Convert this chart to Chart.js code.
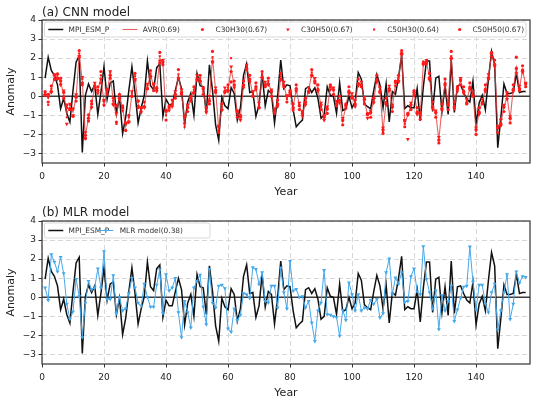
<!DOCTYPE html>
<html>
<head>
<meta charset="utf-8">
<script src="https://cdn.jsdelivr.net/npm/chart.js"></script>
<style>
  html, body { margin: 0; padding: 0; background: #fff; }
  canvas { display: block; }
</style>
</head>
<body>
<canvas id="cnn" width="541" height="200"></canvas>
<canvas id="mlr" width="541" height="201"></canvas>
<script>
// ---- data ----
const years = Array.from({ length: 156 }, (_, i) => i + 1);
const xTicks = [0, 20, 40, 60, 80, 100, 120, 140];
const yTicks = [-3, -2, -1, 0, 1, 2, 3, 4];

const mpi = [0.95, 2.05, 1.35, 1.1, 0.6, -0.65, -0.1, -0.9, -1.35, 0.3,
  1.8, 2.1, -2.95, 0.05, 0.65, 0.25, 0.6, -0.95, 0.2, 1.55,
  -0.15, 0.7, 0.8, -0.9, -0.05, -1.95, -1.1, 0.3, 1.55, 0.2,
  -1.4, -0.6, 0.05, 1.85, 0.55, 0.35, 1.5, 1.7, -1.05, -0.15,
  -0.45, -0.45, 0.3, 1.0, 0.4, -1.45, -0.3, 0.15, -1.0, 1.2,
  0.55, 0.5, -0.9, 1.65, 0.3, -1.5, -2.3, -0.05, -0.5, -0.65,
  0.45, 0.15, -1.25, -0.6, 1.1, 1.7, 0.2, 0.25, -1.05, -0.45,
  1.2, -0.5, 0.3, 0.15, -1.4, 0.0, 1.9, 0.4, 0.6, 0.55,
  -0.7, -1.6, -1.4, -1.25, 0.4, 0.5, 0.2, 0.45, -0.1, -1.15,
  -1.0, 0.5, 0.05, 0.0, -0.9, 0.7, -0.75, -0.65, 0.0, -0.6,
  -0.3, 1.25, 0.9, -0.4, -0.55, -0.65, 0.3, 1.15, 0.6, -0.6,
  0.65, -1.35, 0.25, 0.1, 1.0, 2.15, -0.65, -0.5, -0.6, -0.6,
  0.4, -1.3, 0.5, 1.85, 1.85, -0.8, 0.95, 1.05, -0.8, 0.55,
  -0.95, 1.9, -0.85, 0.55, 0.6, 0.2, -0.15, -0.3, 0.8, -1.45,
  -0.35, 0.05, -0.7, 0.9, 2.35, 1.65, -2.7, -1.1, 0.65, 0.15,
  0.15, 0.2, 1.2, 0.2, 0.25, 0.25];

const avr = [0.15, -0.1, 0.35, 1.0, 1.05, 0.75, 0.1, -0.9, -0.55, -0.85,
  -0.05, 2.2, 0.8, -2.1, -1.1, -0.45, 0.55, 0.3, 1.0, -0.35,
  0.25, 1.15, -0.3, -1.05, 0.0, -0.6, -1.6, -1.2, 0.1, 1.0,
  -0.4, -0.7, -0.5, 0.5, 1.15, 0.5, 0.35, 2.0, 1.75, -0.95,
  -0.6, -0.4, 0.1, 1.1, 0.2, -1.3, -0.6, -0.1, 0.3, 0.95,
  0.9, 0.3, -0.7, -0.2, 2.0, 0.3, -1.7, -0.6, 0.3, 0.4,
  1.4, 0.6, -0.9, -1.1, 0.6, 1.5, 0.9, 0.1, 0.5, -0.5,
  1.1, 0.6, 0.75, 0.2, -0.8, -0.4, 1.0, 0.6, -0.1, 0.2,
  -0.6, 0.4, -0.5, -0.9, -0.3, 0.3, 1.2, 0.8, 0.4, -0.5,
  -1.1, -0.7, 0.5, 0.3, -0.4, -0.2, -1.3, -0.5, 0.3, 0.0,
  -0.4, 0.7, 0.6, -0.2, -1.0, -0.9, -0.2, 0.9, 0.3, -1.8,
  -0.3, 0.4, -0.6, 0.7, 0.9, 2.3, -1.4, -1.0, -0.5, 0.2,
  -0.8, -1.0, 1.75, 1.8, 1.0, -0.5, -0.9, -2.3, -0.6, 0.7,
  -0.5, 2.1, -0.5, 0.4, 0.8, 0.3, -0.3, 0.5, 0.1, -1.8,
  -0.8, -0.3, 0.4, 1.0, 2.2, 1.7, -1.7, -1.4, -0.6, 0.0,
  -1.2, 0.4, 1.5, 0.4, 1.4, 0.6];

const c30h30 = [0.25, -0.3, 0.55, 0.9, 1.15, 0.95, -0.1, -0.6, -0.65, -0.65,
  -0.25, 2.4, 0.6, -2.2, -1.3, -0.25, 0.45, 0.5, 1.3, -0.45,
  0.35, 0.95, -0.1, -1.35, 0.1, -0.5, -1.8, -1.0, 0.0, 1.2,
  -0.6, -0.6, -0.3, 0.4, 1.35, 0.3, 0.45, 2.3, 1.65, -1.25,
  -0.5, -0.2, -0.1, 1.4, 0.1, -1.1, -0.8, 0.0, 0.5, 0.85,
  1.1, 0.1, -0.6, -0.4, 2.35, 0.2, -1.9, -0.4, 0.2, 0.6,
  1.3, 0.8, -1.1, -1.0, 0.8, 1.4, 1.1, 0.0, 0.7, -0.6,
  1.3, 0.5, 0.95, 0.0, -0.9, -0.2, 1.2, 0.5, -0.3, 0.3,
  -0.4, 0.6, -0.7, -0.8, -0.1, 0.2, 1.4, 0.7, 0.6, -0.7,
  -1.0, -0.9, 0.6, 0.1, -0.5, 0.0, -1.5, -0.4, 0.5, -0.1,
  -0.2, 0.9, 0.5, -0.4, -0.9, -1.1, -0.1, 1.1, 0.2, -1.95,
  -0.1, 0.3, -0.8, 0.8, 1.1, 2.4, -1.6, -0.9, -0.7, 0.3,
  -0.6, -1.2, 1.8, 1.7, 1.2, -0.3, -1.1, -2.45, -0.4, 0.9,
  -0.7, 2.35, -0.3, 0.5, 0.6, 0.5, -0.4, 0.7, 0.0, -2.0,
  -0.6, -0.4, 0.6, 0.9, 2.3, 1.9, -1.9, -1.2, -0.8, 0.2,
  -1.4, 0.6, 2.05, 0.3, 1.6, 0.5];

const c30h50 = [0.05, -0.05, 0.2, 1.15, 0.9, 0.6, 0.3, -1.45, -0.4, -1.0,
  0.1, 2.1, 1.0, -1.9, -1.0, -0.6, 0.7, 0.15, 0.9, -0.2,
  0.1, 1.3, -0.45, -0.9, -0.15, -0.75, -1.45, -1.35, 0.25, 0.9,
  -0.25, -0.85, -0.6, 0.65, 1.0, 0.6, 0.25, 1.85, 1.9, -0.8,
  -0.75, -0.55, 0.25, 0.95, 0.35, -1.45, -0.45, -0.25, 0.15, 1.1,
  0.75, 0.45, -0.85, 0.0, 1.8, 0.45, -1.55, -0.75, 0.45, 0.25,
  1.55, 0.45, -0.75, -1.25, 0.45, 1.65, 0.75, 0.25, 0.35, -0.35,
  0.95, 0.75, 0.6, 0.35, -0.65, -0.55, 0.85, 0.75, 0.05, 0.05,
  -0.75, 0.25, -0.35, -1.05, -0.45, 0.45, 1.05, 0.95, 0.25, -0.35,
  -1.25, -0.55, 0.35, 0.45, -0.25, -0.35, -1.15, -0.65, 0.15, 0.15,
  -0.55, 0.55, 0.75, -0.05, -1.15, -0.75, -0.35, 0.75, 0.45, -1.65,
  -0.45, 0.55, -0.45, 0.55, 0.75, 2.15, -1.25, -2.25, -0.35, 0.05,
  -0.95, -0.85, 1.65, 1.9, 0.85, -0.65, -0.75, -2.15, -0.75, 0.55,
  -0.35, 1.95, -0.65, 0.25, 0.95, 0.15, -0.15, 0.35, 0.25, -1.65,
  -0.95, -0.15, 0.25, 1.15, 2.05, 1.55, -1.55, -1.55, -0.45, -0.15,
  -1.05, 0.25, 1.2, 0.55, 1.25, 0.7];

const c50h30 = [0.2, -0.45, 0.4, 0.85, 1.2, 0.65, 0.0, -1.1, -0.45, -0.7,
  0.0, 2.25, 0.9, -2.25, -0.95, -0.55, 0.5, 0.25, 1.1, -0.5,
  0.2, 1.25, -0.25, -1.45, 0.05, -0.55, -1.75, -1.1, 0.15, 1.05,
  -0.5, -0.75, -0.55, 0.55, 1.2, 0.45, 0.3, 2.1, 1.7, -1.0,
  -0.55, -0.45, 0.05, 1.15, 0.15, -1.6, -0.55, -0.05, 0.35, 0.95,
  0.95, 0.25, -0.75, -0.15, 2.05, 0.25, -1.75, -0.55, 0.3, 0.45,
  2.0, 0.55, -0.95, -1.05, 0.55, 1.5, 0.85, 0.15, 0.45, -0.45,
  1.15, 0.55, 0.8, 0.2, -0.85, -0.45, 1.05, 0.55, -0.15, 0.25,
  -0.65, 0.35, -0.45, -0.85, -0.35, 0.3, 1.25, 0.75, 0.4, -0.55,
  -1.05, -0.7, 0.55, 0.3, -0.45, -0.25, -1.3, -0.45, 0.3, 0.0,
  -0.45, 0.7, 0.55, -0.2, -1.0, -0.9, -0.25, 0.9, 0.3, -1.85,
  -0.3, 0.35, -0.6, 0.7, 0.95, 2.3, -1.45, -1.0, -0.5, 0.25,
  -0.8, -1.05, 1.75, 1.8, 1.0, -0.5, -0.9, -2.3, -0.6, 0.7,
  -0.5, 2.1, -0.5, 0.45, 0.8, 0.3, -0.3, 0.5, 0.1, -1.8,
  -0.8, -0.3, 0.4, 1.0, 2.2, 1.7, -1.7, -1.4, -0.6, 0.0,
  -1.2, 0.4, 1.5, 0.4, 1.4, 0.6];

const c50h50 = [0.1, 0.1, 0.25, 1.1, 0.95, 0.8, 0.2, -0.45, -0.7, -1.05,
  -0.05, 2.05, 0.7, -2.05, -1.15, -0.4, 0.55, 0.3, 0.7, -0.25,
  0.35, 1.1, -0.4, -0.5, -0.1, -0.6, -1.4, -1.35, 0.0, 0.85,
  -0.25, -0.6, -0.55, 0.4, 1.05, 0.65, 0.4, 1.75, 1.8, -0.75,
  -0.6, -0.4, 0.1, 0.9, 0.2, -1.05, -0.6, -0.1, 0.2, 0.9,
  0.8, 0.4, -0.6, -0.25, 1.8, 0.3, -1.6, -0.7, 0.25, 0.3,
  0.75, 0.6, -0.8, -1.1, 0.6, 1.45, 0.9, 0.0, 0.5, -0.6,
  1.0, 0.6, 0.65, 0.25, -0.8, -0.4, 0.9, 0.6, 0.0, 0.2,
  -0.6, 0.4, -0.5, -0.9, -0.3, 0.25, 1.1, 0.8, 0.35, -0.45,
  -1.1, -0.65, 0.5, 0.35, -0.4, -0.2, -1.25, -0.5, 0.25, -0.05,
  -0.4, 0.65, 0.6, -0.15, -0.95, -0.85, -0.1, 0.85, 0.25, -1.75,
  -0.35, 0.4, -0.55, 0.75, 0.8, 2.25, -1.3, -0.95, -0.45, 0.2,
  -0.85, -0.9, 1.7, 1.8, 0.95, -0.55, -0.85, -2.3, -0.65, 0.65,
  -0.45, 2.0, -0.55, 0.4, 0.85, 0.25, -0.35, 0.45, 0.05, -1.75,
  -0.85, -0.35, 0.35, 0.95, 2.25, 1.65, -1.65, -1.45, -0.55, 0.05,
  -1.15, 0.35, 1.45, 0.4, 1.35, 0.65];

const mlr = [0.5, -0.15, 2.25, 1.85, 1.35, 2.1, 1.25, -0.35, -1.15, -0.75,
  0.95, 0.05, -2.1, -0.3, 0.85, 0.4, 0.5, 1.5, 0.5, 2.4,
  -0.1, -0.1, 1.15, -0.85, 0.0, -0.7, -0.6, 0.2, 1.0, 0.5,
  -0.3, -0.45, 0.7, 0.0, -0.5, -0.5, 0.65, 1.45, -0.85, 1.2,
  0.35, 0.5, 1.0, -0.8, -2.1, -0.2, -0.8, -1.6, 0.5, 0.85,
  1.17, -0.5, -1.42, 1.47, -0.3, -0.55, 0.6, 0.65, 0.47, -1.65,
  -1.82, -0.6, -1.2, -0.93, 0.2, 0.15, -0.05, 1.56, 1.47, 0.68,
  1.3, -0.2, -0.28, 0.6, 0.6, -0.55, 1.55, 0.25, -0.6, 1.9,
  0.33, 0.42, 0.0, 0.05, -0.55, -0.2, -1.33, -2.3, -0.7, -0.28,
  1.42, -0.9, -0.92, -1.0, -1.05, -2.03, -0.67, -1.2, 0.77, 0.15,
  -0.7, 0.15, -0.7, -0.55, -0.6, -0.15, -0.35, -0.1, -1.07, -0.85,
  1.3, 2.03, 0.15, 1.03, 0.7, 1.3, -0.25, -0.2, 1.1, 1.5,
  0.3, 0.15, 2.67, 0.95, 0.25, -0.6, 0.35, -1.68, 0.1, -0.7,
  -0.2, 0.6, -1.25, -0.65, -0.05, 0.55, 0.6, 2.65, 0.8, -0.65,
  0.65, 0.65, -0.35, -0.8, 0.25, 0.7, -1.7, -0.7, 0.25, 1.2,
  -1.15, -0.35, 1.35, 0.75, 1.1, 1.05];

// ---- styling ----
const FONT = 'DejaVu Sans';
const RED = '#ff1a1a';
const AVR_RED = 'rgba(226,60,60,0.8)';
const BLUE = '#45a8ea';
const toXY = arr => arr.map((v, i) => ({ x: years[i], y: v }));

function lineSet(label, arr, color, width, order) {
  return { label, data: toXY(arr), borderColor: color, borderWidth: width,
    pointRadius: 0, tension: 0, fill: false, order };
}
function dotSet(label, arr, style, radius, rotation, order) {
  return { label, data: toXY(arr), showLine: false, pointStyle: style,
    pointRadius: radius, pointRotation: rotation, pointBackgroundColor: RED,
    pointBorderWidth: 0, borderColor: RED, order };
}

// frame, zero line, tick marks, panel title and inside legend
const framePlugin = {
  id: 'frame',
  beforeDatasetsDraw(chart) {
    const { ctx, chartArea: a, scales: { y } } = chart;
    const y0 = y.getPixelForValue(0);
    ctx.save();
    ctx.strokeStyle = '#3c3c3c';
    ctx.lineWidth = 1.3;
    ctx.beginPath();
    ctx.moveTo(a.left, y0);
    ctx.lineTo(a.right, y0);
    ctx.stroke();
    ctx.restore();
  },
  afterDraw(chart, args, opts) {
    const { ctx, chartArea: a, scales: { x, y } } = chart;
    ctx.save();
    ctx.strokeStyle = '#333';
    ctx.lineWidth = 1.2;
    ctx.strokeRect(a.left, a.top, a.right - a.left, a.bottom - a.top);
    ctx.lineWidth = 1;
    ctx.beginPath();
    xTicks.forEach(v => {
      const px = Math.round(x.getPixelForValue(v)) + 0.5;
      ctx.moveTo(px, a.bottom);
      ctx.lineTo(px, a.bottom + 3.5);
    });
    yTicks.forEach(v => {
      const py = Math.round(y.getPixelForValue(v)) + 0.5;
      ctx.moveTo(a.left, py);
      ctx.lineTo(a.left - 3.5, py);
    });
    ctx.stroke();

    // panel title
    ctx.fillStyle = '#222';
    ctx.font = '12px "' + FONT + '"';
    ctx.textBaseline = 'alphabetic';
    ctx.fillText(opts.title, a.left, 15.5);

    // legend box
    const lg = opts.legend;
    const top = a.top + 2, h = 15, yc = top + h / 2;
    ctx.beginPath();
    ctx.roundRect(a.left + 2.5, top, lg.width, h, 2);
    ctx.fillStyle = 'rgba(255,255,255,0.85)';
    ctx.fill();
    ctx.strokeStyle = '#cfcfcf';
    ctx.lineWidth = 0.8;
    ctx.stroke();

    ctx.font = '7.4px "' + FONT + '"';
    ctx.textBaseline = 'middle';
    lg.items.forEach(it => {
      if (it.line) {
        ctx.strokeStyle = it.color;
        ctx.lineWidth = it.line;
        ctx.beginPath();
        ctx.moveTo(it.x, yc);
        ctx.lineTo(it.x + 15, yc);
        ctx.stroke();
      }
      if (it.style) {
        ctx.fillStyle = it.color;
        ctx.strokeStyle = it.color;
        Chart.helpers.drawPoint(ctx, { pointStyle: it.style, radius: it.r,
          rotation: it.rot || 0, borderWidth: 0 }, it.x + (it.line ? 7.5 : 0), yc);
      }
      ctx.fillStyle = '#333';
      ctx.fillText(it.text, it.tx, yc + 0.5);
    });
    ctx.restore();
  }
};

function makeChart(id, datasets, title, legend, padTop) {
  const gridOpts = { color: '#d8d8d8', lineWidth: 1, drawTicks: false };
  const borderOpts = { display: false, dash: [5, 3] };
  return new Chart(document.getElementById(id), {
    type: 'line',
    data: { datasets },
    plugins: [framePlugin],
    options: {
      responsive: false,
      animation: false,
      devicePixelRatio: 1,
      layout: { padding: { top: padTop, right: 11, left: 0, bottom: 0 } },
      plugins: {
        legend: { display: false },
        tooltip: { enabled: false },
        frame: { title, legend }
      },
      scales: {
        x: {
          type: 'linear', min: 0, max: 157.4,
          afterBuildTicks: s => { s.ticks = xTicks.map(v => ({ value: v })); },
          afterFit: s => { s.height = 37; },
          grid: gridOpts,
          border: borderOpts,
          ticks: { font: { family: FONT, size: 9 }, color: '#222', padding: 8, maxRotation: 0 },
          title: { display: true, text: 'Year', color: '#222',
            font: { family: FONT, size: 11, lineHeight: 1 }, padding: { top: 0, bottom: 2 } }
        },
        y: {
          type: 'linear', min: -3.5, max: 4,
          afterBuildTicks: s => { s.ticks = yTicks.map(v => ({ value: v })); },
          afterFit: s => { s.width = 42; },
          grid: gridOpts,
          border: borderOpts,
          ticks: { font: { family: FONT, size: 9 }, color: '#222', padding: 6,
            callback: v => v < 0 ? '\u2212' + Math.abs(v) : String(v) },
          title: { display: true, text: 'Anomaly', color: '#222',
            font: { family: FONT, size: 11, lineHeight: 1 }, padding: { top: 6, bottom: 0 } }
        }
      }
    }
  });
}

makeChart('cnn', [
  lineSet('MPI_ESM_P', mpi, '#111', 1.5, 6),
  lineSet('AVR(0.69)', avr, AVR_RED, 1.1, 5),
  dotSet('C30H30(0.67)', c30h30, 'circle', 1.6, 0, 4),
  dotSet('C30H50(0.67)', c30h50, 'triangle', 2.3, 180, 3),
  dotSet('C50H30(0.64)', c50h30, 'rect', 1.5, 0, 2),
  dotSet('C50H50(0.67)', c50h50, 'circle', 1.7, 0, 1)
], '(a) CNN model', {
  width: 481.5,
  items: [
    { text: 'MPI_ESM_P', x: 48.3, tx: 68.6, line: 1.5, color: '#111' },
    { text: 'AVR(0.69)', x: 122.4, tx: 142.8, line: 1.1, color: AVR_RED },
    { text: 'C30H30(0.67)', x: 202.4, tx: 215.5, style: 'circle', r: 1.5, color: RED },
    { text: 'C30H50(0.67)', x: 287.9, tx: 301, style: 'triangle', r: 2.1, rot: 180, color: RED },
    { text: 'C50H30(0.64)', x: 374.1, tx: 387.2, style: 'rect', r: 1.5, color: RED },
    { text: 'C50H50(0.67)', x: 459.7, tx: 472.4, style: 'circle', r: 1.6, color: RED }
  ]
}, 20);

makeChart('mlr', [
  lineSet('MPI_ESM_P', mpi, '#111', 1.5, 2),
  Object.assign(lineSet('MLR model(0.38)', mlr, BLUE, 1, 1), {
    pointRadius: 2.3, pointStyle: 'triangle', pointRotation: 180,
    pointBackgroundColor: BLUE, pointBorderColor: BLUE, pointBorderWidth: 0
  })
], '(b) MLR model', {
  width: 165.5,
  items: [
    { text: 'MPI_ESM_P', x: 48.3, tx: 68.6, line: 1.5, color: '#111' },
    { text: 'MLR model(0.38)', x: 98.3, tx: 119.7, line: 1, style: 'triangle', r: 2.1, rot: 180, color: BLUE }
  ]
}, 21);
</script>
</body>
</html>
